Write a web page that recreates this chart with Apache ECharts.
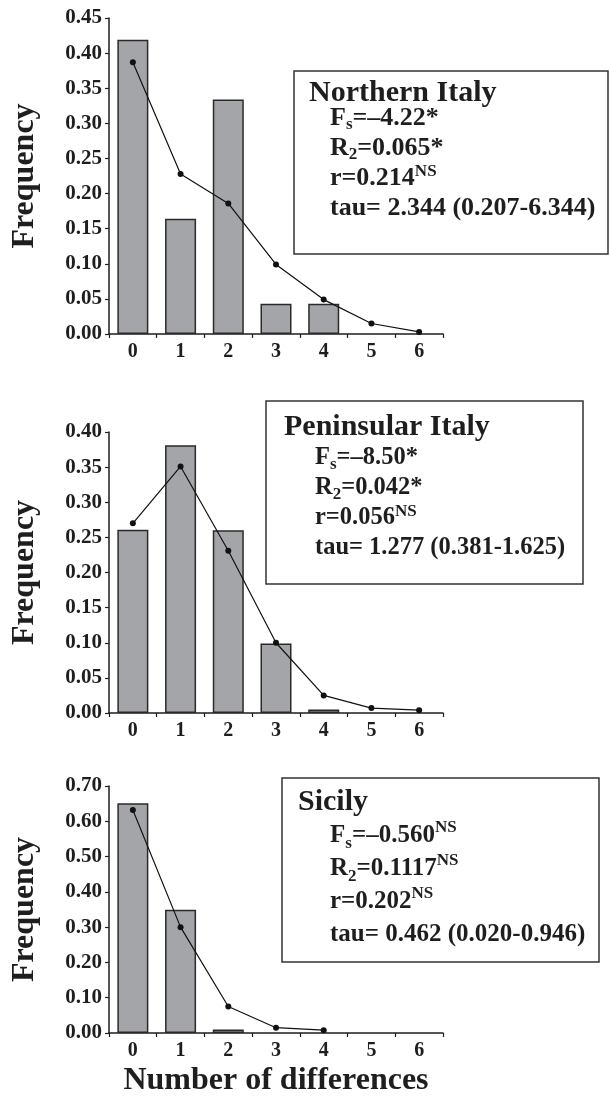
<!DOCTYPE html>
<html>
<head>
<meta charset="utf-8">
<script src="https://cdn.jsdelivr.net/npm/echarts@6/dist/echarts.min.js"></script>
<style>html,body{margin:0;padding:0;background:#fff;}#chart{width:609px;height:1099px;}</style>
</head>
<body>
<div id="chart"></div>
<script>
const categories = ['0', '1', '2', '3', '4', '5', '6'];

const northObserved = [0.419, 0.164, 0.334, 0.043, 0.043, null, null];
const northExpected = [0.387, 0.228, 0.186, 0.099, 0.049, 0.015, 0.003];

const peninsularObserved = [0.261, 0.381, 0.260, 0.099, 0.005, null, null];
const peninsularExpected = [0.270, 0.351, 0.231, 0.100, 0.025, 0.007, 0.004];

const sicilyObserved = [0.651, 0.349, 0.010, null, null, null, null];
const sicilyExpected = [0.632, 0.300, 0.075, 0.015, 0.008, null, null];

const yMax = [0.45, 0.40, 0.70];
const yInterval = [0.05, 0.05, 0.10];

const regionNames = ['Northern Italy', 'Peninsular Italy', 'Sicily'];
const statTexts = [
  '{m|F}{sub|s}{m|=–4.22*}\n{m|R}{sub|2}{m|=0.065*}\n{m|r=0.214}{sup|NS}\n{m|tau= 2.344 (0.207-6.344)}',
  '{m|F}{sub|s}{m|=–8.50*}\n{m|R}{sub|2}{m|=0.042*}\n{m|r=0.056}{sup|NS}\n{m|tau= 1.277 (0.381-1.625)}',
  '{m|F}{sub|s}{m|=–0.560}{sup|NS}\n{m|R}{sub|2}{m|=0.1117}{sup|NS}\n{m|r=0.202}{sup|NS}\n{m|tau= 0.462 (0.020-0.946)}'
];

const FONT = '"Liberation Serif", "Times New Roman", serif';
const INK = '#1e1e1e';

const grids = [
  {left: 109, top: 18, width: 334, height: 316},
  {left: 109, top: 432, width: 334, height: 281},
  {left: 109, top: 786, width: 334, height: 247}
];

const observed = [northObserved, peninsularObserved, sicilyObserved];
const expected = [northExpected, peninsularExpected, sicilyExpected];

const xAxes = [], yAxes = [], series = [];
for (let i = 0; i < 3; i++) {
  xAxes.push({
    type: 'category', gridIndex: i, data: categories, boundaryGap: true,
    axisLine: {lineStyle: {color: INK, width: 1.5}},
    axisTick: {show: true, length: 4, lineStyle: {color: INK, width: 1.2}},
    axisLabel: {fontFamily: FONT, fontWeight: 'bold', fontSize: 20, color: INK, margin: 8},
    name: i === 2 ? 'Number of differences' : '',
    nameLocation: 'middle', nameGap: 32,
    nameTextStyle: {fontFamily: FONT, fontWeight: 'bold', fontSize: 32, color: INK}
  });
  yAxes.push({
    type: 'value', gridIndex: i, min: 0, max: yMax[i], interval: yInterval[i],
    splitLine: {show: false},
    axisLine: {show: true, lineStyle: {color: INK, width: 1.5}},
    axisTick: {show: true, length: 4, lineStyle: {color: INK, width: 1.2}},
    axisLabel: {fontFamily: FONT, fontWeight: 'bold', fontSize: 21, color: INK, margin: 7,
      formatter: v => v.toFixed(2)},
    name: 'Frequency', nameLocation: 'middle', nameGap: 68, nameRotate: 90,
    nameTextStyle: {fontFamily: FONT, fontWeight: 'bold', fontSize: 32, color: INK}
  });
  series.push({
    type: 'bar', xAxisIndex: i, yAxisIndex: i, data: observed[i], barWidth: '65%',
    itemStyle: {color: '#a4a5a9', borderColor: '#2a2a2a', borderWidth: 1.5},
    animation: false, z: 2
  });
  series.push({
    type: 'line', xAxisIndex: i, yAxisIndex: i, data: expected[i],
    symbol: 'circle', symbolSize: 6, showSymbol: true,
    itemStyle: {color: '#111'}, lineStyle: {color: '#111', width: 1.2},
    animation: false, z: 3
  });
}

const boxes = [
  {x: 294, y: 71, w: 314, h: 183, tx: 309, ty: 93, sx: 330, sy: 103, lh: 30, fs: 26},
  {x: 266, y: 401, w: 317, h: 183, tx: 284, ty: 427, sx: 315, sy: 443, lh: 30, fs: 24.5},
  {x: 282, y: 778, w: 317, h: 184, tx: 298, ty: 802, sx: 330, sy: 819, lh: 33, fs: 25}
];

const graphics = [];
boxes.forEach((b, i) => {
  graphics.push({
    type: 'rect', shape: {x: b.x, y: b.y, width: b.w, height: b.h},
    style: {fill: '#fff', stroke: '#333', lineWidth: 1.5}, z: 10
  });
  graphics.push({
    type: 'text', x: b.tx, y: b.ty, z: 11,
    style: {text: regionNames[i], fontFamily: FONT, fontWeight: 'bold', fontSize: 30,
      fill: INK, verticalAlign: 'middle', align: 'left'}
  });
  graphics.push({
    type: 'text', x: b.sx, y: b.sy, z: 11,
    style: {
      text: statTexts[i], verticalAlign: 'top', align: 'left', fill: INK,
      fontFamily: FONT, fontWeight: 'bold', fontSize: b.fs,
      rich: {
        m: {fontFamily: FONT, fontWeight: 'bold', fontSize: b.fs, lineHeight: b.lh, fill: INK, color: INK},
        sub: {fontFamily: FONT, fontWeight: 'bold', fontSize: 17, lineHeight: 16, verticalAlign: 'bottom', fill: INK, color: INK},
        sup: {fontFamily: FONT, fontWeight: 'bold', fontSize: 17, lineHeight: 18, verticalAlign: 'top', fill: INK, color: INK}
      }
    }
  });
});

const chart = echarts.init(document.getElementById('chart'), null, {renderer: 'canvas'});
chart.setOption({
  backgroundColor: '#fff',
  animation: false,
  grid: grids.map(g => Object.assign({outerBoundsMode: 'none', containLabel: false}, g)),
  xAxis: xAxes,
  yAxis: yAxes,
  series: series,
  graphic: graphics
});
</script>
</body>
</html>
